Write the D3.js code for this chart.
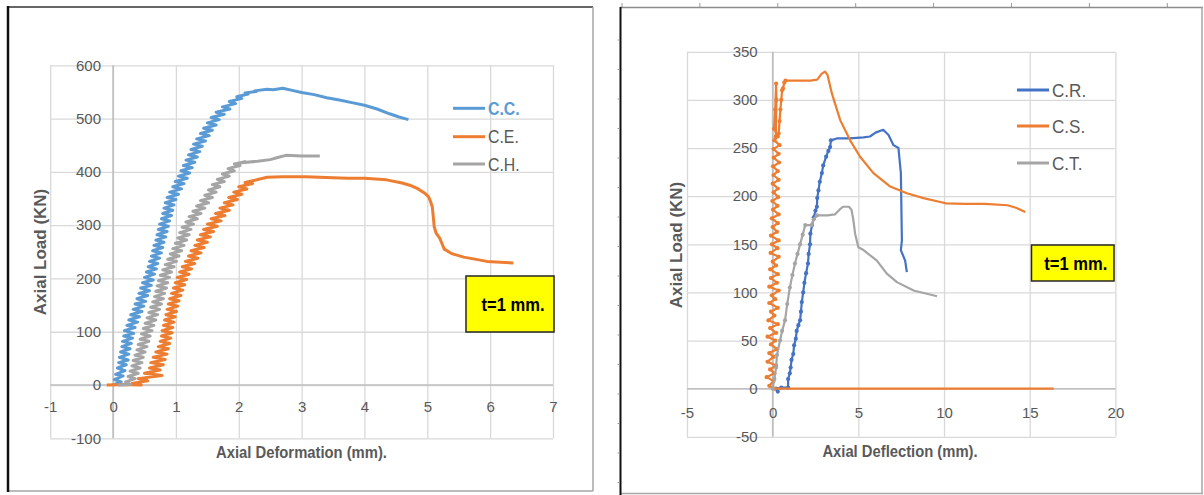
<!DOCTYPE html>
<html><head><meta charset="utf-8">
<script src="https://cdn.jsdelivr.net/npm/d3@7"></script>
<style>
html,body{margin:0;padding:0;background:#fff;}
svg{display:block;font-family:"Liberation Sans",Arial,sans-serif;}
</style></head>
<body>
<svg id="c" width="1204" height="495"></svg>
<script>
// ---------- DATA ----------
const leftXTicks = [-1,0,1,2,3,4,5,6,7];
const leftYTicks = [-100,0,100,200,300,400,500,600];
const rightXTicks = [-5,0,5,10,15,20];
const rightYTicks = [-50,0,50,100,150,200,250,300,350];
const leftNames = ["C.C.","C.E.","C.H."];
const rightNames = ["C.R.","C.S.","C.T."];
const leftXTitle = "Axial Deformation (mm).";
const rightXTitle = "Axial Deflection (mm).";
const yTitle = "Axial Load (KN)";
const boxLabel = "t=1 mm.";

const ccData = [[0.00,0],[0.13,6],[0.02,10],[0.16,17],[0.04,20],[0.19,27],[0.07,32],[0.21,38],[0.09,42],[0.24,47],[0.10,52],[0.25,58],[0.12,62],[0.27,68],[0.14,72],[0.29,78],[0.15,82],[0.31,88],[0.17,92],[0.33,97],[0.18,102],[0.35,108],[0.22,112],[0.39,118],[0.25,122],[0.42,128],[0.28,132],[0.46,138],[0.32,142],[0.49,148],[0.35,152],[0.52,157],[0.38,162],[0.55,168],[0.41,172],[0.58,177],[0.44,182],[0.61,187],[0.47,192],[0.64,197],[0.50,202],[0.66,208],[0.53,212],[0.69,218],[0.56,222],[0.71,228],[0.58,232],[0.74,238],[0.61,242],[0.77,248],[0.63,252],[0.79,258],[0.65,262],[0.81,268],[0.68,272],[0.84,278],[0.70,282],[0.86,288],[0.72,292],[0.88,298],[0.74,302],[0.90,308],[0.77,312],[0.93,318],[0.79,322],[0.95,328],[0.81,332],[0.97,338],[0.83,342],[1.00,348],[0.86,352],[1.04,358],[0.90,362],[1.09,368],[0.95,372],[1.13,378],[0.99,382],[1.18,388],[1.04,392],[1.22,398],[1.08,402],[1.26,408],[1.12,412],[1.30,418],[1.16,422],[1.34,428],[1.20,432],[1.38,438],[1.24,442],[1.42,448],[1.28,452],[1.47,458],[1.33,462],[1.53,468],[1.39,472],[1.58,478],[1.44,482],[1.64,488],[1.50,492],[1.69,498],[1.56,502],[1.77,508],[1.64,512],[1.86,518],[1.74,522],[1.95,528],[1.85,532],[2.05,538],[1.97,541],[2.15,546],[2.10,548],[2.28,551],[2.25,552],[2.45,555],[2.55,554],[2.70,557],[2.85,553],[3.00,549],[3.20,545],[3.40,539],[3.60,535],[3.80,530],[4.00,525],[4.20,518],[4.40,509],[4.55,503],[4.70,498]];

const ceData = [[-0.10,0],[0.20,1],[0.45,0],[0.30,3],[0.55,8],[0.40,12],[0.78,18],[0.50,22],[0.75,28],[0.58,32],[0.80,38],[0.60,42],[0.83,48],[0.64,52],[0.86,58],[0.68,62],[0.88,68],[0.72,72],[0.90,78],[0.75,82],[0.92,88],[0.77,92],[0.94,98],[0.78,102],[0.95,108],[0.80,112],[0.97,118],[0.82,122],[0.99,128],[0.84,132],[1.01,138],[0.86,142],[1.03,148],[0.88,152],[1.05,158],[0.90,162],[1.08,168],[0.93,172],[1.11,178],[0.96,182],[1.14,188],[0.99,192],[1.17,198],[1.02,202],[1.21,208],[1.06,212],[1.25,218],[1.10,222],[1.30,228],[1.15,232],[1.35,238],[1.20,242],[1.40,248],[1.24,252],[1.45,258],[1.30,262],[1.50,268],[1.34,272],[1.55,278],[1.39,282],[1.60,288],[1.44,292],[1.66,298],[1.50,302],[1.72,308],[1.56,312],[1.78,318],[1.63,322],[1.85,328],[1.70,332],[1.91,338],[1.77,342],[1.98,348],[1.84,352],[2.05,358],[1.92,362],[2.13,368],[2.00,372],[2.22,378],[2.10,380],[2.32,386],[2.25,384],[2.45,390],[2.70,391],[3.06,391],[3.50,389],[3.74,388],[4.00,388],[4.35,385],[4.60,379],[4.72,375],[4.84,369],[4.96,360],[5.02,353],[5.05,345],[5.08,334],[5.10,310],[5.11,297],[5.14,285],[5.20,275],[5.27,255],[5.40,246],[5.58,240],[5.95,232],[6.37,229]];

const chData = [[0.08,0],[0.28,1],[0.20,6],[0.35,12],[0.24,16],[0.40,22],[0.27,26],[0.43,32],[0.30,36],[0.46,42],[0.32,46],[0.48,52],[0.35,56],[0.51,62],[0.38,66],[0.54,72],[0.40,76],[0.57,82],[0.43,86],[0.59,92],[0.45,96],[0.62,102],[0.48,106],[0.65,112],[0.51,116],[0.68,122],[0.54,126],[0.71,132],[0.57,136],[0.74,142],[0.60,146],[0.77,152],[0.63,156],[0.80,162],[0.66,166],[0.82,172],[0.68,176],[0.85,182],[0.70,186],[0.87,192],[0.72,196],[0.90,202],[0.75,206],[0.93,212],[0.79,216],[0.97,222],[0.83,226],[1.01,232],[0.87,236],[1.05,242],[0.91,246],[1.09,252],[0.95,256],[1.13,262],[0.99,266],[1.17,272],[1.03,276],[1.21,282],[1.06,286],[1.24,292],[1.10,296],[1.28,302],[1.16,306],[1.34,312],[1.21,316],[1.40,322],[1.27,326],[1.46,332],[1.33,336],[1.52,342],[1.39,346],[1.58,352],[1.46,356],[1.64,362],[1.52,366],[1.70,372],[1.58,376],[1.77,382],[1.66,386],[1.85,392],[1.74,396],[1.93,402],[1.83,406],[2.02,412],[1.93,415],[2.10,419],[2.05,417],[2.30,420],[2.50,423],[2.62,427],[2.75,431],[3.00,430],[3.29,430]];

const crData = [[0.3,-3],[0.2,0],[0.5,1],[0.9,1],[0.9,10],[1.0,16],[1.05,22],[1.1,30],[1.2,36],[1.25,45],[1.35,52],[1.4,60],[1.5,66],[1.6,71],[1.65,80],[1.7,90],[1.78,100],[1.85,110],[1.95,120],[2.06,130],[2.1,140],[2.18,150],[2.2,161],[2.3,170],[2.4,178],[2.5,185],[2.58,189],[2.6,198],[2.67,206],[2.75,215],[2.87,224],[2.95,232],[3.12,241],[3.25,247],[3.35,251],[3.4,258],[3.74,260],[4.5,260],[5.3,261],[5.68,262],[6.0,266],[6.45,269],[6.76,263.5],[7.05,253],[7.34,250],[7.48,224],[7.54,154],[7.48,144],[7.73,133],[7.83,121]];

const csData = [[16.4,0],[0.1,0],[-0.2,3],[0.05,8],[-0.35,12],[0.1,16],[-0.15,20],[0.2,24],[-0.3,28],[0.05,33],[-0.2,37],[0.25,41],[-0.1,46],[0.15,50],[-0.3,54],[0.2,58],[-0.15,63],[0.3,67],[-0.25,71],[0.1,76],[-0.1,80],[0.3,84],[-0.2,89],[0.15,93],[-0.05,97],[0.35,102],[-0.2,106],[0.25,110],[-0.1,115],[0.3,119],[-0.15,124],[0.2,128],[0.0,132],[0.35,137],[-0.12,141],[0.28,146],[-0.05,150],[0.35,154],[-0.1,159],[0.25,163],[0.0,168],[0.3,172],[-0.05,177],[0.35,181],[0.02,186],[0.28,190],[-0.02,195],[0.32,199],[0.05,204],[0.3,208],[0.0,213],[0.35,217],[0.05,222],[0.3,226],[0.02,231],[0.38,235],[0.06,240],[0.35,244],[0.05,249],[0.4,253],[0.1,258],[0.3,262],[0.08,270],[0.15,290],[0.2,317],[0.22,300],[0.18,262],[0.35,265],[0.4,278],[0.45,290],[0.5,300],[0.55,310],[0.6,312],[0.68,318],[0.75,320],[1.5,320],[2.2,320],[2.6,321],[2.85,327],[3.05,329.5],[3.2,326],[3.45,307],[3.94,279],[4.52,258],[5.1,241],[5.88,224],[6.86,210],[7.83,203],[8.8,198],[9.78,194],[10.13,192.5],[11.2,192],[12.4,192],[13.7,190.6],[14.2,188],[14.74,183.6]];

const ctData = [[0,0],[0.1,10],[0.2,22],[0.25,35],[0.43,50],[0.55,60],[0.72,71],[0.85,88],[1.0,105],[1.15,118],[1.3,130],[1.45,140],[1.6,150],[1.75,160],[1.9,170],[2.28,170],[2.4,176],[2.58,180],[3.2,180],[3.63,181],[3.9,186],[4.1,189],[4.45,189],[4.6,186],[4.71,175],[4.81,161],[5.0,147],[5.3,144],[6.08,133],[6.66,119.5],[7.25,110.7],[8.22,102],[9.0,98.6],[9.59,96]];

// ---------- DRAWING ----------
const svg = d3.select("#c");
const TXT = "#595959", GRID = "#d9d9d9", AX = "#bfbfbf";

function htext(g, x, y, str, o) {
  o = o || {};
  return g.append("text")
    .attr("transform", `translate(${x},${y}) scale(${o.sx||1},1)`)
    .attr("text-anchor", o.anchor || "start")
    .attr("font-size", o.size || 15)
    .attr("font-weight", o.bold ? "bold" : "normal")
    .attr("fill", o.fill || TXT)
    .text(str);
}

function chart(cfg) {
  const g = svg.append("g");
  const x = cfg.x, y = cfg.y;
  const [x0, x1] = x.range(), [y0, y1] = y.range();
  // grid
  g.append("g").attr("transform", `translate(0,${y0})`)
    .call(d3.axisBottom(x).tickValues(cfg.xt).tickSize(-(y0 - y1)).tickFormat(""))
    .call(s => s.select(".domain").remove())
    .selectAll("line").attr("stroke", GRID).attr("stroke-width", 1.3);
  g.append("g").attr("transform", `translate(${x0},0)`)
    .call(d3.axisLeft(y).tickValues(cfg.yt).tickSize(-(x1 - x0)).tickFormat(""))
    .call(s => s.select(".domain").remove())
    .selectAll("line").attr("stroke", GRID).attr("stroke-width", 1.3);
  // zero axes
  g.append("line").attr("x1", x0).attr("x2", x1).attr("y1", y(0)).attr("y2", y(0))
    .attr("stroke", AX).attr("stroke-width", 1.6);
  g.append("line").attr("x1", x(0)).attr("x2", x(0)).attr("y1", y0).attr("y2", y1)
    .attr("stroke", AX).attr("stroke-width", 1.6);
  // tick labels
  const xa = g.append("g").attr("transform", `translate(0,${y(0)})`)
    .call(d3.axisBottom(x).tickValues(cfg.xt).tickSize(0).tickPadding(cfg.xpad).tickFormat(d => String(d)));
  xa.select(".domain").remove();
  xa.selectAll("text").attr("font-size", 15).attr("fill", TXT).attr("font-family", null);
  const ya = g.append("g").attr("transform", `translate(${x(0)},0)`)
    .call(d3.axisLeft(y).tickValues(cfg.yt).tickSize(0).tickPadding(cfg.ypad).tickFormat(d => String(d)));
  ya.select(".domain").remove();
  ya.selectAll("text").attr("font-size", 15).attr("fill", TXT).attr("font-family", null);
  // series
  const line = d3.line().x(d => x(d[0])).y(d => y(d[1]));
  cfg.series.forEach(s => {
    g.append("path").datum(s.data).attr("d", line).attr("fill", "none")
      .attr("stroke", s.color).attr("stroke-width", cfg.lw).attr("stroke-linejoin", "round");
    if (s.marker) {
      g.append("g").selectAll("circle").data(s.data.filter(s.marker))
        .join("circle").attr("cx", d => x(d[0])).attr("cy", d => y(d[1])).attr("r", 2.1).attr("fill", s.color);
    }
  });
  // legend
  cfg.series.forEach((s, i) => {
    const ly = cfg.legY[i];
    g.append("line").attr("x1", cfg.legX).attr("x2", cfg.legX + 32).attr("y1", ly).attr("y2", ly)
      .attr("stroke", s.color).attr("stroke-width", 3);
    htext(g, cfg.legX + 35, ly + 6.5, s.name, {size: 18, sx: cfg.legSx, bold: s.hl, fill: s.hl ? s.color : TXT});
  });
  // box
  const b = cfg.box;
  g.append("rect").attr("x", b[0]).attr("y", b[1]).attr("width", b[2]).attr("height", b[3])
    .attr("fill", "#ffff00").attr("stroke", "#262626").attr("stroke-width", 1.5);
  htext(g, b[0] + b[2] / 2 + 3, b[1] + b[3] / 2 + 6.5, boxLabel, {size: 18, bold: true, fill: "#000", anchor: "middle", sx: 0.92});
  // titles
  htext(g, cfg.xTitlePos[0], cfg.xTitlePos[1], cfg.xTitle, {size: 17, bold: true, anchor: "middle", sx: 0.87});
  g.append("text").attr("transform", `translate(${cfg.yTitlePos[0]},${cfg.yTitlePos[1]}) rotate(-90)`)
    .attr("text-anchor", "middle").attr("font-size", 17).attr("font-weight", "bold").attr("fill", TXT).text(yTitle);
}

// frames
const fr = svg.append("g");
fr.append("line").attr("x1", 8).attr("x2", 593).attr("y1", 7).attr("y2", 7).attr("stroke", "#333").attr("stroke-width", 1.5);
fr.append("line").attr("x1", 593).attr("x2", 593).attr("y1", 7).attr("y2", 491).attr("stroke", "#a6a6a6").attr("stroke-width", 1.5);
fr.append("line").attr("x1", 8).attr("x2", 593).attr("y1", 491).attr("y2", 491).attr("stroke", "#a6a6a6").attr("stroke-width", 1.5);
fr.append("line").attr("x1", 8).attr("x2", 8).attr("y1", 6).attr("y2", 492).attr("stroke", "#111").attr("stroke-width", 2.5);

fr.append("line").attr("x1", 620).attr("x2", 1203).attr("y1", 7.5).attr("y2", 7.5).attr("stroke", "#8c8c8c").attr("stroke-width", 1.5);
fr.append("line").attr("x1", 1202).attr("x2", 1202).attr("y1", 7).attr("y2", 494).attr("stroke", "#a6a6a6").attr("stroke-width", 1.5);
fr.append("line").attr("x1", 620).attr("x2", 1203).attr("y1", 493.5).attr("y2", 493.5).attr("stroke", "#a6a6a6").attr("stroke-width", 1.5);
fr.append("line").attr("x1", 620.5).attr("x2", 620.5).attr("y1", 7).attr("y2", 495).attr("stroke", "#111").attr("stroke-width", 2);
// ruler-like ticks
d3.range(8).forEach(i => {
  const tx = 622 + i * 77.9;
  fr.append("line").attr("x1", tx).attr("x2", tx).attr("y1", 3).attr("y2", 7).attr("stroke", "#9a9a9a").attr("stroke-width", 1);
});
d3.range(16).forEach(i => {
  const ty = 40 + i * 29.5;
  fr.append("line").attr("x1", 617.5).attr("x2", 619.5).attr("y1", ty).attr("y2", ty).attr("stroke", "#9a9a9a").attr("stroke-width", 1);
});

chart({
  x: d3.scaleLinear().domain([-1, 7]).range([50.2, 553]),
  y: d3.scaleLinear().domain([-100, 600]).range([438.3, 65.3]),
  xt: leftXTicks, yt: leftYTicks, xpad: 16.5, ypad: 12, lw: 3,
  series: [
    {name: leftNames[0], data: ccData, color: "#5B9BD5", hl: true},
    {name: leftNames[1], data: ceData, color: "#ED7D31"},
    {name: leftNames[2], data: chData, color: "#A5A5A5"}
  ],
  legX: 453, legY: [108.3, 136.7, 164], legSx: 0.88,
  box: [466, 276, 88, 56],
  xTitle: leftXTitle, xTitlePos: [301.5, 458], yTitlePos: [46, 252]
});

chart({
  x: d3.scaleLinear().domain([-5, 20]).range([687, 1115.4]),
  y: d3.scaleLinear().domain([-50, 350]).range([436.8, 51.8]),
  xt: rightXTicks, yt: rightYTicks, xpad: 18.5, ypad: 15, lw: 2.2,
  series: [
    {name: rightNames[0], data: crData, color: "#4472C4", marker: (d, i) => i < 36},
    {name: rightNames[1], data: csData, color: "#ED7D31", marker: (d, i) => i >= 1 && d[0] < 0.8},
    {name: rightNames[2], data: ctData, color: "#A5A5A5", marker: (d, i) => i < 18}
  ],
  legX: 1017, legY: [90, 126, 163], legSx: 0.95,
  box: [1031.5, 245, 82.5, 36],
  xTitle: rightXTitle, xTitlePos: [900, 457], yTitlePos: [682, 245]
});
</script>
</body></html>
